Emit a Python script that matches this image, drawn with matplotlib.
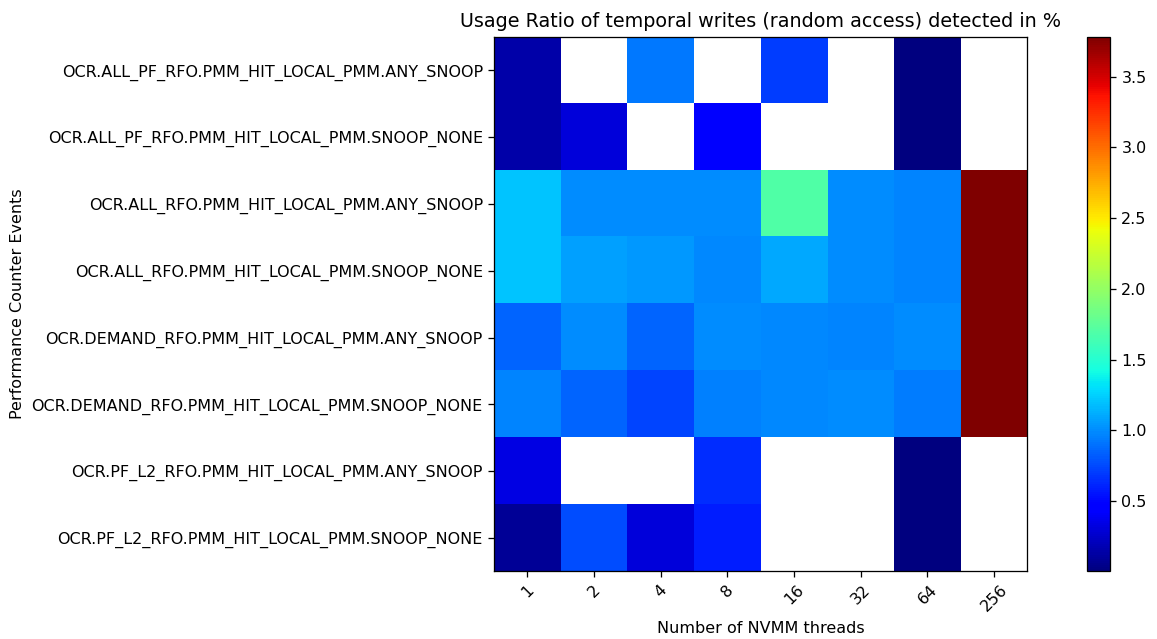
import numpy as np
import matplotlib
matplotlib.use('Agg')
import matplotlib.pyplot as plt

# 事件名称和线程数
events = [
    'OCR.ALL_PF_RFO.PMM_HIT_LOCAL_PMM.ANY_SNOOP',
    'OCR.ALL_PF_RFO.PMM_HIT_LOCAL_PMM.SNOOP_NONE',
    'OCR.ALL_RFO.PMM_HIT_LOCAL_PMM.ANY_SNOOP',
    'OCR.ALL_RFO.PMM_HIT_LOCAL_PMM.SNOOP_NONE',
    'OCR.DEMAND_RFO.PMM_HIT_LOCAL_PMM.ANY_SNOOP',
    'OCR.DEMAND_RFO.PMM_HIT_LOCAL_PMM.SNOOP_NONE',
    'OCR.PF_L2_RFO.PMM_HIT_LOCAL_PMM.ANY_SNOOP',
    'OCR.PF_L2_RFO.PMM_HIT_LOCAL_PMM.SNOOP_NONE',
]
threads = ['1', '2', '4', '8', '16', '32', '64', '256']

nan = np.nan
# 每行对应一个事件，每列对应线程数 (%)
ratio = np.array([
    [0.14, nan, 0.92, nan, 0.71, nan, 0.005, nan],
    [0.14, 0.31, nan, 0.45, nan, nan, 0.005, nan],
    [1.21, 1.00, 1.00, 1.00, 1.70, 1.00, 0.975, 3.78],
    [1.21, 1.07, 1.04, 0.99, 1.10, 1.00, 0.975, 3.77],
    [0.85, 1.00, 0.85, 1.00, 0.99, 0.975, 1.00, 3.77],
    [0.975, 0.85, 0.74, 0.96, 0.99, 1.00, 0.945, 3.77],
    [0.34, nan, nan, 0.65, nan, nan, 0.005, nan],
    [0.08, 0.77, 0.31, 0.59, nan, nan, 0.005, nan],
])

dpi = 115
fig = plt.figure(figsize=(1157 / dpi, 639 / dpi), dpi=dpi)
ax = fig.add_axes([0.427, 0.106, 0.461, 0.836])
cax = fig.add_axes([0.9395, 0.106, 0.02, 0.836])

im = ax.imshow(np.ma.masked_invalid(ratio), cmap='jet', aspect='auto')
ax.set_xticks(range(len(threads)))
ax.set_xticklabels(threads, rotation=45)
ax.set_yticks(range(len(events)))
ax.set_yticklabels(events)
ax.set_xlabel('Number of NVMM threads')
ax.set_ylabel('Performance Counter Events')
ax.set_title('Usage Ratio of temporal writes (random access) detected in %', fontsize=12)

fig.colorbar(im, cax=cax)

plt.savefig('out.png', dpi=dpi)
